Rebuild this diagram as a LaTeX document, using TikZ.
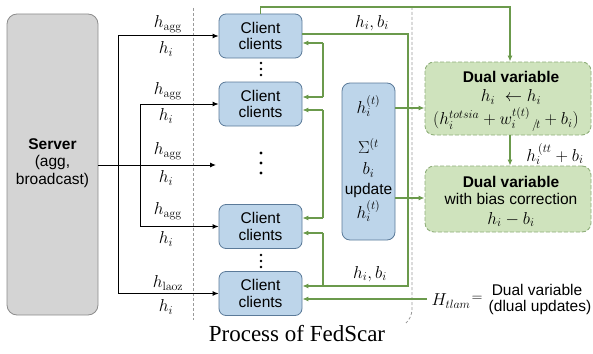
\documentclass[tikz,border=0pt]{standalone}
\usepackage[no-math]{fontspec}
\setmainfont{Liberation Sans}
\newfontfamily\capfont{Liberation Serif}
\usetikzlibrary{arrows.meta}
\definecolor{srvfill}{HTML}{D4D4D4}
\definecolor{srvline}{HTML}{8C8C8C}
\definecolor{clfill}{HTML}{BDD5EA}
\definecolor{clline}{HTML}{5B7A99}
\definecolor{dufill}{HTML}{CFE3BD}
\definecolor{duline}{HTML}{8FAE7A}
\definecolor{gline}{HTML}{6B9A4C}
\definecolor{sepline}{HTML}{9A9A9A}
\begin{document}
\begin{tikzpicture}[x=1pt,y=-1pt,
  txt/.style={font=\fontsize{15.5}{17}\selectfont, inner sep=0pt},
  mth/.style={font=\fontsize{18}{20}\selectfont, inner sep=0pt},
  srvbox/.style={draw=srvline, fill=srvfill, rounded corners=10pt, line width=0.8pt},
  client/.style={draw=clline, fill=clfill, rounded corners=7pt, line width=0.8pt,
    minimum width=83pt, minimum height=44pt, align=center, inner sep=0pt,
    font=\fontsize{15.5}{16.5}\selectfont},
  updbox/.style={draw=clline, fill=clfill, rounded corners=8pt, line width=0.8pt,
    minimum width=53pt, minimum height=157pt, inner sep=0pt},
  dualbox/.style={draw=duline, fill=dufill, dashed, dash pattern=on 4pt off 2pt,
    rounded corners=9pt, line width=0.9pt, minimum width=166pt, inner sep=0pt},
  blk/.style={-{Latex[length=6pt,width=5pt]}, line width=1pt},
  grn/.style={draw=gline, line width=1.1pt},
  garr/.style={grn, -{Latex[length=6pt,width=5pt]}},
  sep/.style={draw=sepline, line width=0.8pt, dash pattern=on 3pt off 2pt},
  dot/.style={fill=black, circle, inner sep=0pt, minimum size=2.6pt},
  bigdot/.style={fill=black, circle, inner sep=0pt, minimum size=3.4pt}]
\useasboundingbox (0,0) rectangle (593,353);

% separators
\draw[sep] (193,8) -- (193,320);
\draw[sep] (412,7) -- (412,308) .. controls (412,316) and (409,320) .. (406,323);

% server
\node[srvbox, minimum width=91pt, minimum height=301pt] (server) at (52.5,164.5) {};
\node[txt, align=center, font=\fontsize{15.5}{17.5}\selectfont] (srvtext) at (52.5,163)
  {\textbf{Server}\\(agg,\\broadcast)};

% clients
\node[client] (c1) at (260.5,36) {Client\\clients};
\node[client] (c2) at (260.5,104) {Client\\clients};
\node[client] (c4) at (260.5,226.5) {Client\\clients};
\node[client] (c5) at (260.5,293.5) {Client\\clients};

% vertical dots
\node[dot] (d1a) at (261,63) {};
\node[dot] (d1b) at (261,69) {};
\node[dot] (d1c) at (261,75) {};
\node[bigdot] (d2a) at (261,153) {};
\node[bigdot] (d2b) at (261,163) {};
\node[bigdot] (d2c) at (261,173) {};
\node[dot] (d3a) at (261,255) {};
\node[dot] (d3b) at (261,261) {};
\node[dot] (d3c) at (261,267) {};

% broadcast arrows
\coordinate (midend) at (216,165);
\coordinate (ta) at (118,36);
\coordinate (tb) at (118,293.5);
\coordinate (ia) at (140,104);
\coordinate (ib) at (140,226.5);
\draw[blk] (server.east |- midend) -- (midend);
\draw[line width=1pt] (ta) -- (tb);
\draw[line width=1pt] (ia) -- (ib);
\draw[blk] (ta) -- (c1.west |- ta);
\draw[blk] (tb) -- (c5.west |- tb);
\draw[blk] (ia) -- (c2.west |- ia);
\draw[blk] (ib) -- (c4.west |- ib);

% broadcast labels
\node[mth] (la1) at (168,24) {$h_{\mathrm{agg}}$};
\node[mth] (lb1) at (166,49) {$h_i$};
\node[mth] (la2) at (168,91) {$h_{\mathrm{agg}}$};
\node[mth] (lb2) at (166,116) {$h_i$};
\node[mth] (la3) at (168,151) {$h_{\mathrm{agg}}$};
\node[mth] (lb3) at (166,178) {$h_i$};
\node[mth] (la4) at (168,211) {$h_{\mathrm{agg}}$};
\node[mth] (lb4) at (166,239) {$h_i$};
\node[mth] (la5) at (168,283) {$h_{\mathrm{laoz}}$};
\node[mth] (lb5) at (166,307) {$h_i$};

% update box
\node[updbox] (upd) at (368.5,161.5) {};
\node[mth] (u1) at (368.5,106) {$h_i^{(t)}$};
\node[mth] (u2) at (368.5,146) {$\Sigma^{(t}$};
\node[mth] (u3) at (368.5,170) {$b_i$};
\node[txt] (u4) at (368.5,190) {update};
\node[mth] (u5) at (368.5,211) {$h_i^{(t)}$};

% dual variable boxes
\node[dualbox, minimum height=73pt] (dv1) at (508,98.5) {};
\node[txt] (dv1a) at (511,77) {\textbf{Dual variable}};
\node[mth] (dv1b) at (511,97) {$h_i\ \leftarrow h_i$};
\node[mth] (dv1c) at (506,119) {$\bigl(h_i^{totsia} + w_i^{t(t)}{}_{\,/\!t} + b_i\bigr)$};
\node[dualbox, minimum height=66pt] (dv2) at (508,199) {};
\node[txt] (dv2a) at (511,182) {\textbf{Dual variable}};
\node[txt] (dv2b) at (511,199) {with bias correction};
\node[mth] (dv2c) at (511,219.5) {$h_i - b_i$};

% green feedback lines
\coordinate (g1) at (260.5,7);
\coordinate (g2) at (510,7);
\draw[garr] (c1.north) -- (g1) -- (g2) -- (dv1.north -| g2);

\coordinate (h1) at (408,34);
\coordinate (h2) at (408,286);
\draw[garr] (c1.east |- h1) -- (h1) -- (h2) -- (c5.east |- h2);
\node[mth] (hb1) at (372,23) {$h_i, b_i$};
\node[mth] (hb2) at (370,274) {$h_i, b_i$};

\coordinate (ka) at (323,43);
\coordinate (kb) at (323,97);
\draw[grn] (ka) -- (kb);
\draw[garr] (ka) -- (c1.east |- ka);
\draw[garr] (kb) -- (c2.east |- kb);

\coordinate (ma) at (323,110);
\coordinate (mb) at (323,218);
\draw[grn] (ma) -- (mb);
\draw[garr] (ma) -- (c2.east |- ma);
\draw[garr] (mb) -- (c4.east |- mb);

\coordinate (na) at (323,233);
\coordinate (nb) at (323,286);
\draw[grn] (na) -- (nb);
\draw[garr] (na) -- (c4.east |- na);

\draw[garr] (upd.east |- 0,108) -- (dv1.west |- 0,108);
\draw[garr] (upd.east |- 0,198) -- (dv2.west |- 0,198);

\draw[garr] (dv1.south -| g2) -- (dv2.north -| g2);
\node[mth] (hm) at (555,154) {$h_i^{\,(tt} + b_i$};

% bottom dual update line
\coordinate (bq) at (427,299);
\draw[garr] (bq) -- (c5.east |- bq);
\node[mth] (hl) at (451,301) {$H_{tlam}$};
\node[txt] (heq) at (477,299) {$=$};
\node[txt] (dl1) at (537,290) {Dual variable};
\node[txt] (dl2) at (540,307) {(dlual updates)};

% caption
\node[inner sep=0pt, font=\capfont\fontsize{23}{25}\selectfont] (cap) at (297,334) {Process of FedScar};
\end{tikzpicture}
\end{document}
